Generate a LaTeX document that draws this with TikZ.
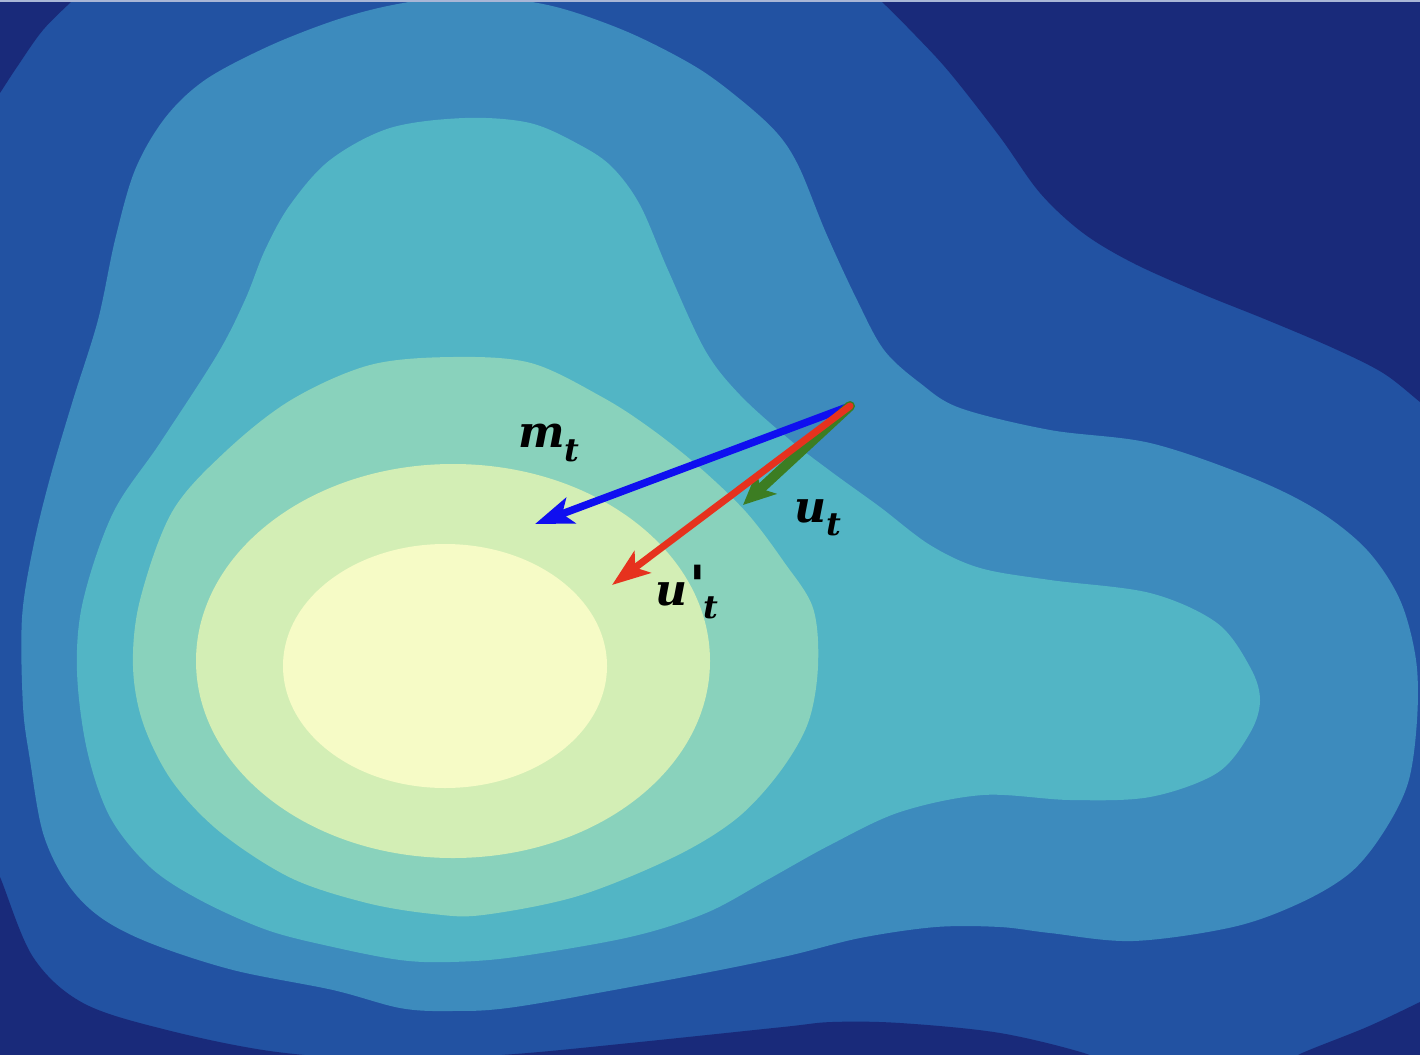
\documentclass[tikz,border=0pt]{standalone}
\usepackage{fontspec}
\newfontfamily\lblfont{DejaVu Serif}
\usetikzlibrary{arrows.meta}
\definecolor{cNavy}{HTML}{192A7A}
\definecolor{cDark}{HTML}{2252A2}
\definecolor{cMed}{HTML}{3D8BBD}
\definecolor{cTeal}{HTML}{52B5C5}
\definecolor{cGreen}{HTML}{89D2BC}
\definecolor{cLight}{HTML}{D3EEB5}
\definecolor{cPale}{HTML}{F6FBC6}
\definecolor{cTop}{HTML}{A9B6D6}
\definecolor{aBlue}{HTML}{0F0FF0}
\definecolor{aRed}{HTML}{E6321E}
\definecolor{aGreen}{HTML}{3C7D22}
\newcommand{\vsub}[1]{\raisebox{-0.3em}{\fontsize{32}{34}\selectfont #1}}
\newcommand{\vprime}{\kern2pt\raisebox{0.02em}{\fontsize{54}{56}\selectfont\textquotesingle}\kern-3pt}
\tikzset{
  lvl/.style={smooth cycle, tension=0.55},
  vec/.style={line width=7.5pt, line cap=round,
    -{Stealth[length=38pt, width=27pt, inset=9pt]}},
  lbl/.style={font=\lblfont\bfseries\itshape\fontsize{44}{48}\selectfont, inner sep=0pt}
}
\begin{document}
\begin{tikzpicture}[x=1pt,y=-1pt]
\useasboundingbox (0,0) rectangle (1420,1054);
% background levels
\fill[cDark] (-10,-10) rectangle (1430,1064);
% navy corners and strips
\fill[cNavy] plot[smooth, tension=0.55] coordinates {(-10,108) (0,93) (17,67) (43,30) (73,0) (85,-12)} -- (-10,-12) -- cycle;
\fill[cNavy] plot[smooth, tension=0.55] coordinates {(865,-12) (880,0) (915,35) (950,73) (1000,137) (1040,193) (1083,233) (1133,263) (1200,293) (1267,320) (1333,348) (1383,373) (1420,402) (1440,418)} -- (1440,-12) -- cycle;
\fill[cNavy] plot[smooth, tension=0.55] coordinates {(-10,860) (0,877) (33,957) (83,1003) (167,1030) (277,1052) (400,1060) (515,1054) (630,1043) (783,1027) (832,1022) (900,1023) (1000,1033) (1087,1054) (1100,1066)} -- (-10,1066) -- cycle;
\fill[cNavy] plot[smooth, tension=0.55] coordinates {(1285,1066) (1300,1054) (1367,1027) (1420,1002) (1440,992)} -- (1440,1066) -- cycle;
% level 2
\fill[cMed] plot[lvl] coordinates {(98,320) (115,240) (135,170) (165,118) (205,80) (267,47) (330,22) (383,7) (440,-2) (500,-2) (560,8) (630,33) (696,67) (741,100) (777,133) (799,167) (826,233) (857,300) (884,350) (920,383) (960,408) (1050,430) (1150,443) (1250,477) (1317,510) (1367,550) (1400,600) (1416,660) (1417,720) (1408,783) (1383,833) (1350,873) (1300,903) (1233,927) (1133,941) (1050,933) (1000,927) (936,927) (860,938) (783,957) (668,980) (515,1007) (450,1011) (400,1008) (333,990) (233,970) (150,943) (100,917) (67,883) (43,833) (30,760) (23,706) (22,618) (33,548) (50,478) (73,400)};
% level 3
\fill[cTeal] plot[lvl] coordinates {(465,118) (530,123) (580,145) (612,167) (640,205) (668,270) (705,350) (740,395) (790,440) (833,473) (880,507) (930,545) (980,568) (1050,580) (1150,593) (1217,623) (1250,667) (1260,700) (1250,733) (1217,773) (1150,797) (1070,800) (983,795) (900,812) (830,845) (767,880) (706,913) (630,937) (515,957) (450,962) (400,960) (333,947) (267,930) (200,900) (150,867) (110,817) (87,750) (77,671) (83,601) (113,513) (160,443) (217,355) (245,300) (265,250) (290,205) (330,160) (390,128)};
% level 4
\fill[cGreen] plot[lvl] coordinates {(453,357) (531,363) (602,397) (650,428) (698,466) (746,512) (784,562) (813,608) (818,666) (808,723) (779,773) (736,819) (674,857) (578,896) (483,915) (433,914) (367,903) (291,878) (220,832) (172,781) (143,723) (133,666) (140,600) (172,512) (225,452) (291,400) (370,365)};
% level 5
\fill[cLight] (453,661) ellipse [x radius=257, y radius=197];
% level 6
\fill[cPale] (445,666) ellipse [x radius=162, y radius=122];
% thin top line
\fill[cTop] (-10,-10) rectangle (1430,2.5);
% vectors
\coordinate (o) at (850,406);
\coordinate (mtip) at (535,524);
\coordinate (utip) at (743,505);
\coordinate (uptip) at (612,585);
\draw[vec, aBlue] (o) -- (mtip);
\draw[vec, aGreen, line width=10pt, -{Stealth[length=32pt, width=29pt, inset=8pt]}] (o) -- (utip);
\draw[vec, aRed, line width=7pt] (o) -- (uptip);
% labels
\node[lbl] (mt) at (549,443) {m\vsub{t}};
\node[lbl] (ut) at (818,518) {u\vsub{t}};
\node[lbl] (upt) at (687,592) {u\vprime\vsub{t}};
\end{tikzpicture}
\end{document}
